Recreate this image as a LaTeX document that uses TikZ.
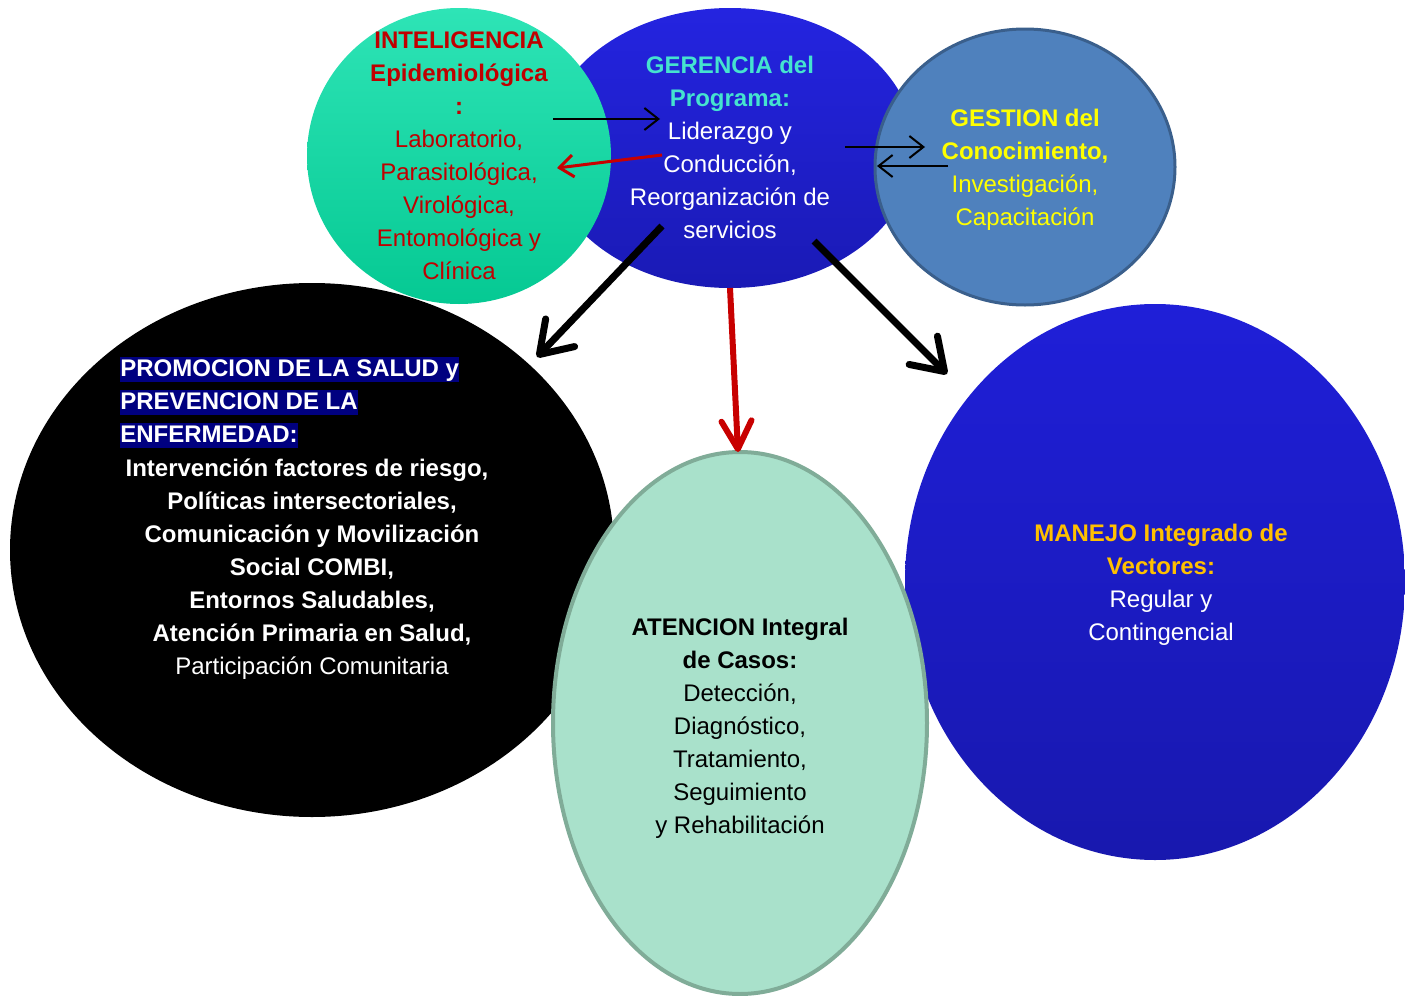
\documentclass[tikz,border=0pt]{standalone}
\usepackage{fontspec}
\setmainfont{Liberation Sans}
\usetikzlibrary{shapes.geometric,arrows.meta}
\definecolor{intelTop}{HTML}{2EE4B6}
\definecolor{intelBot}{HTML}{05C993}
\definecolor{gerTop}{HTML}{2424E0}
\definecolor{gerBot}{HTML}{1A1AB5}
\definecolor{gestFill}{HTML}{4F81BD}
\definecolor{gestLine}{HTML}{3A5F8C}
\definecolor{manTop}{HTML}{1F1FD8}
\definecolor{manBot}{HTML}{1818AE}
\definecolor{atFill}{HTML}{A9E1CB}
\definecolor{atLine}{HTML}{80AC98}
\definecolor{intelRed}{HTML}{C00000}
\definecolor{gerCyan}{HTML}{45E3CF}
\definecolor{gestYellow}{HTML}{FFFF00}
\definecolor{manOrange}{HTML}{FFC000}
\definecolor{navyHL}{HTML}{000080}
\definecolor{arrowRed}{HTML}{C80000}
\begin{document}
\begin{tikzpicture}[x=0.5pt,y=-0.5pt,
  blob/.style={ellipse, inner sep=0pt, outer sep=0pt},
  txt/.style={align=center, inner sep=0pt, font=\fontsize{12}{16.5}\selectfont},
  hl/.style={fill=navyHL, text=white, font=\bfseries\fontsize{12}{16.5}\selectfont,
    inner xsep=0pt, inner ysep=0pt, text height=10pt, text depth=2.5pt, anchor=base west},
  thinarrow/.style={draw=black, line width=1pt, -{Straight Barb[length=7pt,width=11pt]}},
  redthin/.style={draw=arrowRed, line width=1.5pt, -{Straight Barb[length=7pt,width=11pt]}},
  thickarrow/.style={draw=black, line width=3.5pt, -{Straight Barb[length=15pt,width=20pt,round]}},
  redthick/.style={draw=arrowRed, line width=3pt, -{Straight Barb[length=14pt,width=15pt,round]}}
]
\useasboundingbox (0,0) rectangle (1405,996);

% shapes
\node[blob, minimum width=185pt, minimum height=140pt, top color=gerTop, bottom color=gerBot] (ger) at (730,148) {};
\node[blob, minimum width=152pt, minimum height=148pt, top color=intelTop, bottom color=intelBot] (intel) at (459,156) {};
\node[blob, minimum width=150pt, minimum height=138pt, fill=gestFill, draw=gestLine, line width=1.5pt] (gest) at (1025,167) {};
\node[blob, minimum width=302pt, minimum height=267pt, fill=black] (prom) at (312,550) {};
\node[blob, minimum width=250pt, minimum height=278pt, top color=manTop, bottom color=manBot] (man) at (1155,582) {};
\node[blob, minimum width=187pt, minimum height=271pt, fill=atFill, draw=atLine, line width=2pt] (aten) at (740,723) {};

% texts
\node[txt, text=intelRed] (intelT) at (459,155.5) {\textbf{INTELIGENCIA}\\\textbf{Epidemiológica}\\\textbf{:}\\Laboratorio,\\Parasitológica,\\Virológica,\\Entomológica y\\Clínica};
\node[txt, text=white] (gerT) at (730,147.5) {\textcolor{gerCyan}{\textbf{GERENCIA del}}\\\textcolor{gerCyan}{\textbf{Programa:}}\\Liderazgo y\\Conducción,\\Reorganización de\\servicios};
\node[txt, text=gestYellow] (gestT) at (1025,170) {\textbf{GESTION del}\\\textbf{Conocimiento,}\\Investigación,\\Capacitación};
\node[hl] (prom1) at (120,376.5) {PROMOCION DE LA SALUD y\ };
\node[hl] (prom2) at (120,409.5) {PREVENCION DE LA\ };
\node[hl] (prom3) at (120,442.5) {ENFERMEDAD:};
\node[txt, text=white] (promT) at (312,569.5) {\textbf{Intervención factores de riesgo,}\hspace*{5pt}\\\textbf{Políticas intersectoriales,}\\\textbf{Comunicación y Movilización}\\\textbf{Social COMBI,}\\\textbf{Entornos Saludables,}\\\textbf{Atención Primaria en Salud,}\\Participación Comunitaria};
\node[txt, text=black] (atenT) at (740,728.5) {\textbf{ATENCION Integral}\\\textbf{de Casos:}\\Detección,\\Diagnóstico,\\Tratamiento,\\Seguimiento\\y Rehabilitación};
\node[txt, text=white] (manT) at (1161,585) {\textcolor{manOrange}{\textbf{MANEJO Integrado de}}\\\textcolor{manOrange}{\textbf{Vectores:}}\\Regular y\\Contingencial};

% arrow ends
\coordinate (a1s) at (553,119); \coordinate (a1e) at (660,119);
\coordinate (a2s) at (662,155); \coordinate (a2e) at (557,168);
\coordinate (a3s) at (845,147); \coordinate (a3e) at (925,147);
\coordinate (a4s) at (948,166); \coordinate (a4e) at (877,166);
\coordinate (a5s) at (662,226); \coordinate (a5e) at (537,357);
\coordinate (a6s) at (814,241); \coordinate (a6e) at (947,374);
\coordinate (a7s) at (730,288); \coordinate (a7e) at (738,452);

\draw[thinarrow] (a1s) -- (a1e);
\draw[redthin] (a2s) -- (a2e);
\draw[thinarrow] (a3s) -- (a3e);
\draw[thinarrow] (a4s) -- (a4e);
\draw[thickarrow] (a5s) -- (a5e);
\draw[thickarrow] (a6s) -- (a6e);
\draw[redthick] (a7s) -- (a7e);
\end{tikzpicture}
\end{document}
